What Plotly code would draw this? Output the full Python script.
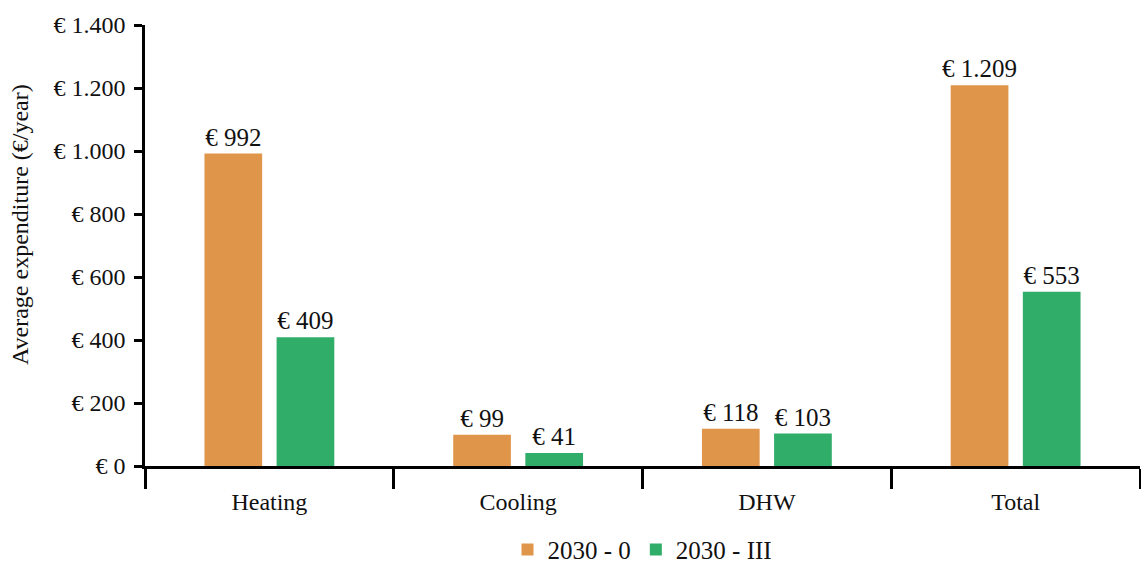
import plotly.graph_objects as go

categories = ["Heating", "Cooling", "DHW", "Total"]
scenario_0 = [992, 99, 118, 1209]
scenario_iii = [409, 41, 103, 553]
series_names = ["2030 - 0", "2030 - III"]
colors = ["#E0964A", "#2FAD69"]

FONT = "Liberation Serif, Times New Roman, serif"

fig = go.Figure()
for name, vals, col in zip(series_names, [scenario_0, scenario_iii], colors):
    fig.add_trace(go.Bar(
        name=name, x=categories, y=vals, marker_color=col, marker_line_width=0,
        text=vals, texttemplate="€ %{y:,d}", textposition="outside",
        constraintext="none",
        textfont=dict(family=FONT, size=25, color="#111"), cliponaxis=False,
    ))

fig.update_layout(
    width=1141, height=567, separators=",.",
    margin=dict(l=145, r=1, t=25, b=101, autoexpand=False),
    plot_bgcolor="white", paper_bgcolor="white",
    font=dict(family=FONT, size=24, color="#111"),
    barmode="group", bargap=0.42, bargroupgap=0.2,
    legend=dict(orientation="h", x=0.5, xanchor="center", y=-0.19, yanchor="middle",
                font=dict(size=25), itemwidth=30, traceorder="normal"),
    xaxis=dict(showline=True, linecolor="black", linewidth=2.5, ticks="outside",
               tickson="boundaries", ticklen=20, tickwidth=2.5, tickcolor="black",
               tickfont=dict(size=24), ticklabelstandoff=12, showgrid=False),
    yaxis=dict(range=[0, 1400], dtick=200, tickformat=",d", tickprefix="€ ",
               showline=True, linecolor="black", linewidth=2.5, ticks="outside",
               ticklen=8, tickwidth=2.5, tickcolor="black", showgrid=False, zeroline=False,
               tickfont=dict(size=24), ticklabelstandoff=4),
    annotations=[dict(text="Average expenditure (€/year)", textangle=-90,
                      xref="paper", yref="paper", x=-145/995 + 20/995, y=(466-225)/441,
                      xanchor="center", yanchor="middle", showarrow=False,
                      font=dict(size=24))],
)

fig.write_html("out.html")
